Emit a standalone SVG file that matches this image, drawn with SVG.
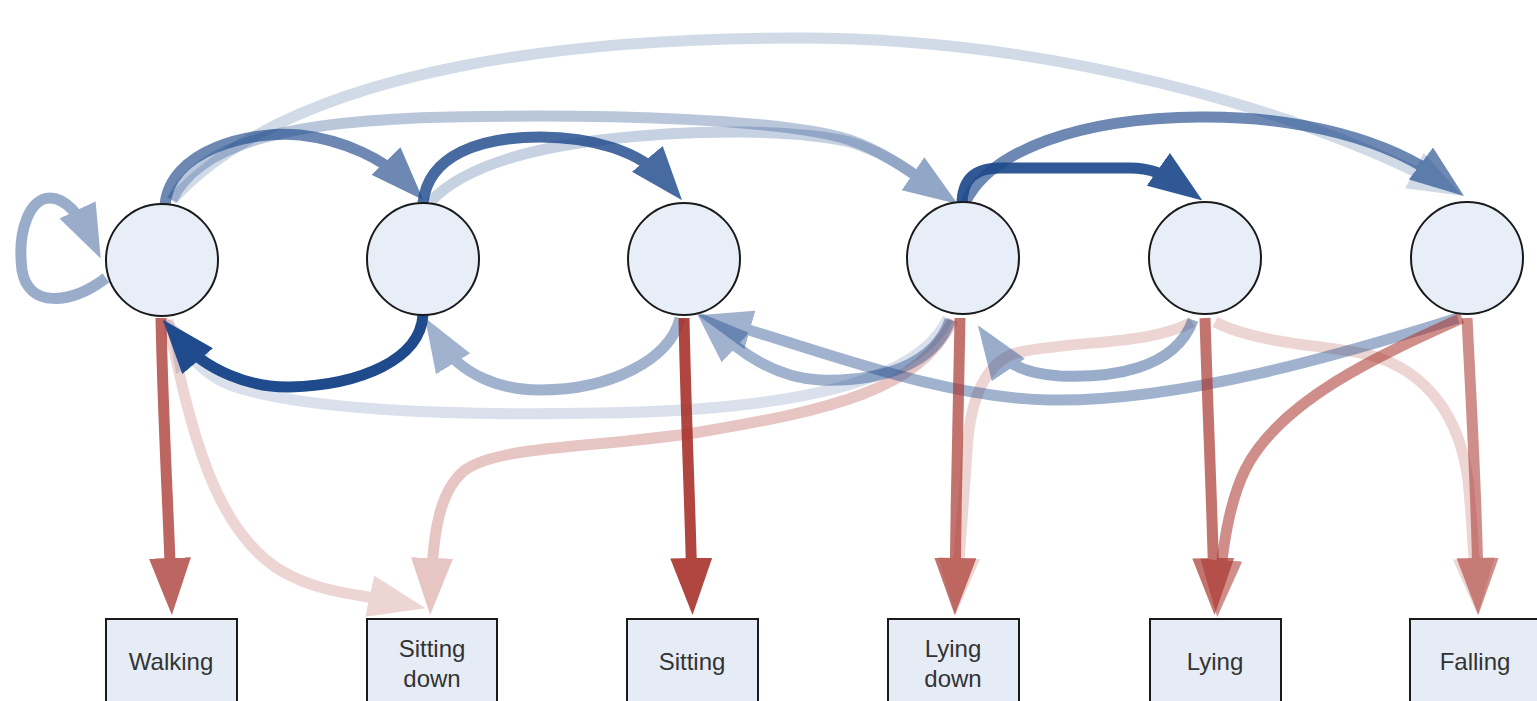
<svg xmlns="http://www.w3.org/2000/svg" width="1537" height="701" viewBox="0 0 1537 701">
<style>
.st{fill:#e8eef7;stroke:#1a1a1a;stroke-width:2}
.ob{fill:#e6ecf5;stroke:#1a1a1a;stroke-width:2}
.lbl{font-family:"Liberation Sans",Arial,sans-serif;font-size:24px;fill:#333;text-anchor:middle}
.b{fill:none;stroke:#1f4a8c;stroke-width:11;marker-end:url(#ab)}
.r{fill:none;stroke:#a8322b;stroke-width:11;marker-end:url(#ar)}
</style>
<defs>
<marker id="ab" markerUnits="userSpaceOnUse" viewBox="0 0 54 40" markerWidth="54" markerHeight="40" refX="29" refY="20" orient="auto"><path d="M0,0 L54,20 L0,40 Z" fill="#1f4a8c"/></marker>
<marker id="ar" markerUnits="userSpaceOnUse" viewBox="0 0 57 42" markerWidth="57" markerHeight="42" refX="32" refY="21" orient="auto"><path d="M0,0 L57,21 L0,42 Z" fill="#a8322b"/></marker>
</defs>
<rect width="1537" height="701" fill="#fff"/>
<g id="connectors">
<!-- very light / light first -->
<path class="b" opacity="0.2" d="M172,200 C300,60 600,38 800,38 C1050,38 1300,110 1440,184"/>
<path class="b" opacity="0.16" d="M948,318 C920,380 800,410 600,413 C450,416 300,410 230,385 C205,375 190,358 179,339"/>
<path class="r" opacity="0.2" d="M168,320 C190,430 215,530 280,570 C320,594 360,594 401,603"/>
<path class="r" opacity="0.28" d="M953,320 C920,390 830,410 700,432 C600,448 500,445 465,470 C440,490 433,530 431,590"/>
<path class="r" opacity="0.2" d="M1192,322 C1150,345 1080,340 1020,352 C985,360 970,400 967,450 C964,500 960,540 957,590"/>
<path class="r" opacity="0.2" d="M1215,322 C1260,345 1330,345 1370,355 C1430,372 1460,420 1468,480 C1472,520 1474,560 1476,590"/>
<path class="b" opacity="0.3" d="M172,200 C200,140 300,120 450,117 C600,114 780,118 850,140 C885,152 915,175 937,190"/>
<path class="b" opacity="0.25" d="M430,202 C460,170 520,150 600,140 C700,128 800,130 850,142 C885,152 915,175 937,190"/>
<path class="b" opacity="0.42" d="M1458,318 C1340,355 1180,402 1050,400 C940,398 820,350 722,322"/>
<path class="b" opacity="0.42" d="M950,320 C935,365 880,382 820,380 C775,378 740,352 714,328"/>
<path class="b" opacity="0.45" d="M1193,320 C1175,370 1110,378 1060,376 C1030,374 1005,365 992,346"/>
<path class="b" opacity="0.42" d="M680,318 C670,360 610,390 540,390 C500,390 460,375 438,339"/>
<path class="b" opacity="0.45" stroke-width="9" d="M106,278 C70,305 28,308 22,270 C17,230 30,198 50,198 C65,198 80,215 90,236"/>
<!-- medium -->
<path class="b" opacity="0.65" d="M165,205 C170,150 250,130 300,135 C345,140 385,160 406,182"/>
<path class="b" opacity="0.65" d="M965,203 C990,150 1080,118 1200,117 C1300,116 1390,140 1444,181"/>
<path class="r" opacity="0.55" d="M1462,318 C1380,355 1280,400 1245,470 C1228,505 1222,550 1219,592"/>
<path class="r" opacity="0.55" d="M1467,318 C1472,420 1477,500 1478,590"/>
<path class="r" opacity="0.68" d="M960,318 C958,420 956,500 955,590"/>
<path class="r" opacity="0.68" d="M1205,318 C1208,420 1212,500 1214,590"/>
<path class="r" opacity="0.75" d="M161,318 C163,420 168,500 171,590"/>
<!-- dark -->
<path class="b" opacity="0.82" d="M423,203 C428,155 480,137 540,137 C590,137 640,150 666,181"/>
<path class="b" opacity="0.92" d="M962,205 C962,178 975,168 1000,168 L1130,168 C1150,168 1165,174 1182,186"/>
<path class="r" opacity="0.9" d="M684,318 C686,420 690,500 692,590"/>
<path class="b" stroke-width="12" d="M423,315 C420,360 360,385 290,387 C250,388 205,370 179,339"/>
</g>
<g id="n1"><circle class="st" cx="162" cy="260" r="56"/></g>
<g id="n2"><circle class="st" cx="423" cy="259" r="56"/></g>
<g id="n3"><circle class="st" cx="684" cy="259" r="56"/></g>
<g id="n4"><circle class="st" cx="963" cy="258" r="56"/></g>
<g id="n5"><circle class="st" cx="1205" cy="258" r="56"/></g>
<g id="n6"><circle class="st" cx="1467" cy="258" r="56"/></g>
<g id="o1"><rect class="ob" x="106" y="619" width="131" height="100"/><text class="lbl" x="171" y="670">Walking</text></g>
<g id="o2"><rect class="ob" x="367" y="619" width="130" height="100"/><text class="lbl" x="432" y="657">Sitting</text><text class="lbl" x="432" y="687">down</text></g>
<g id="o3"><rect class="ob" x="627" y="619" width="131" height="100"/><text class="lbl" x="692" y="670">Sitting</text></g>
<g id="o4"><rect class="ob" x="888" y="619" width="131" height="100"/><text class="lbl" x="953" y="657">Lying</text><text class="lbl" x="953" y="687">down</text></g>
<g id="o5"><rect class="ob" x="1150" y="619" width="131" height="100"/><text class="lbl" x="1215" y="670">Lying</text></g>
<g id="o6"><rect class="ob" x="1410" y="619" width="131" height="100"/><text class="lbl" x="1475" y="670">Falling</text></g>
</svg>
